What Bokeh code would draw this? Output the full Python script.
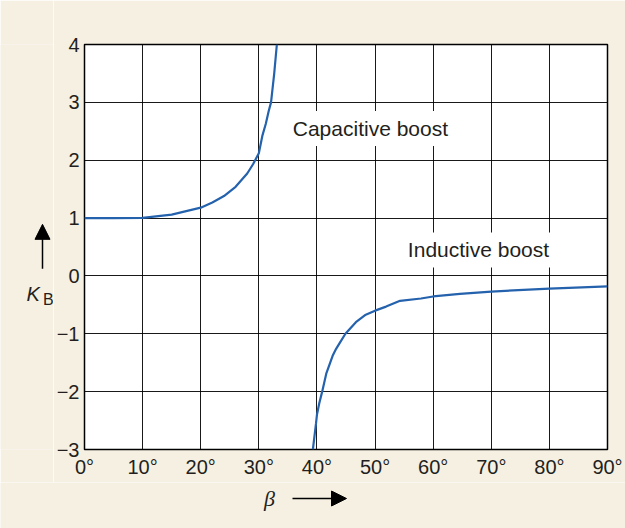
from bokeh.plotting import figure
from bokeh.layouts import column, row
from bokeh.models import FixedTicker, Label, Arrow, NormalHead, Range1d
from bokeh.embed import file_html
from bokeh.resources import INLINE

# Capacitive-boost branch (beta in degrees, K_B)
cap_beta = [0, 5, 10, 15, 20, 22, 24, 26, 28, 29, 30, 30.6, 31.2, 31.7, 32.1, 32.65, 33.1]
cap_k = [1.0, 1.0, 1.005, 1.06, 1.18, 1.27, 1.38, 1.54, 1.77, 1.93, 2.12, 2.42, 2.63, 2.85, 3.0, 3.5, 4.0]

# Inductive-boost branch
ind_beta = [39.3, 39.84, 40.0, 40.4, 40.9, 41.6, 42.7, 43.3, 43.85, 44.9, 46.7, 48.4, 50, 51.9, 54.3, 57.9, 60, 64.6, 70, 80, 90]
ind_k = [-3.0, -2.55, -2.40, -2.2, -2.0, -1.69, -1.38, -1.26, -1.17, -1.0, -0.80, -0.67, -0.60, -0.53, -0.43, -0.39, -0.355, -0.31, -0.27, -0.22, -0.18]

x_ticks = [0, 10, 20, 30, 40, 50, 60, 70, 80, 90]
x_tick_labels = ["0°", "10°", "20°", "30°", "40°", "50°", "60°", "70°", "80°", "90°"]
y_ticks = [-3, -2, -1, 0, 1, 2, 3, 4]
y_tick_labels = ["−3", "−2", "−1", "0", "1", "2", "3", "4"]

BG = "#f6f0e3"
BLUE = "#2562ad"
TXT = "#231f20"
FONT = "Liberation Sans"

# ---- main chart ----
p = figure(width=572, height=482, output_backend="svg", toolbar_location=None,
           x_range=Range1d(0, 90), y_range=Range1d(-3, 4),
           min_border_left=30, min_border_right=18, min_border_top=44, min_border_bottom=33)
p.border_fill_color = BG
p.background_fill_color = "white"
p.outline_line_color = "black"
p.outline_line_width = 1.5

p.xaxis.ticker = FixedTicker(ticks=x_ticks)
p.yaxis.ticker = FixedTicker(ticks=y_ticks)
p.xaxis.major_label_overrides = {t: l for t, l in zip(x_ticks, x_tick_labels)}
p.yaxis.major_label_overrides = {t: l for t, l in zip(y_ticks, y_tick_labels)}
for ax in (p.xaxis, p.yaxis):
    ax.axis_line_color = None
    ax.major_tick_line_color = None
    ax.minor_tick_line_color = None
    ax.major_tick_in = 0
    ax.major_tick_out = 0
    ax.major_label_text_font = FONT
    ax.major_label_text_font_size = "20px"
    ax.major_label_text_color = TXT
p.xaxis.major_label_standoff = 6
p.yaxis.major_label_standoff = 5

p.xgrid.ticker = FixedTicker(ticks=x_ticks)
p.ygrid.ticker = FixedTicker(ticks=y_ticks)
p.grid.grid_line_color = "black"
p.grid.grid_line_width = 1
p.grid.grid_line_alpha = 0.9

p.line(cap_beta, cap_k, line_color=BLUE, line_width=2.2)
p.line(ind_beta, ind_k, line_color=BLUE, line_width=2.2)

for txt, x, y in [("Capacitive boost", 49.2, 2.55), ("Inductive boost", 67.8, 0.45)]:
    p.add_layout(Label(x=x, y=y, text=txt, text_align="center", text_baseline="middle",
                       text_font=FONT, text_font_size="21px", text_color=TXT,
                       background_fill_color="white", padding=6))

# ---- left strip: y-axis title K_B with upward arrow ----
left = figure(width=53, height=482, output_backend="svg", toolbar_location=None,
              x_range=Range1d(0, 53), y_range=Range1d(0, 482),
              x_axis_type=None, y_axis_type=None,
              min_border_left=0, min_border_right=0, min_border_top=0, min_border_bottom=0)
left.border_fill_color = BG
left.background_fill_color = BG
left.outline_line_color = None
left.grid.visible = False
left.add_layout(Label(x=26, y=185, text="K", text_font=FONT, text_font_style="italic",
                      text_font_size="20px", text_color=TXT, text_align="left", text_baseline="alphabetic"))
left.add_layout(Label(x=42.5, y=179, text="B", text_font=FONT,
                      text_font_size="16px", text_color=TXT, text_align="left", text_baseline="alphabetic"))
left.add_layout(Arrow(x_start=42, y_start=215, x_end=42, y_end=268,
                      line_color="black", line_width=1.5,
                      end=NormalHead(size=15, fill_color="black", line_color="black")))

# ---- bottom strip: x-axis title beta with right arrow ----
bottom = figure(width=625, height=46, output_backend="svg", toolbar_location=None,
                x_range=Range1d(0, 625), y_range=Range1d(0, 46),
                x_axis_type=None, y_axis_type=None,
                min_border_left=0, min_border_right=0, min_border_top=0, min_border_bottom=0)
bottom.border_fill_color = BG
bottom.background_fill_color = BG
bottom.outline_line_color = None
bottom.grid.visible = False
bottom.add_layout(Label(x=269, y=30, text="β", text_font="Liberation Serif", text_font_style="italic",
                        text_font_size="22px", text_color=TXT, text_align="center", text_baseline="middle"))
bottom.add_layout(Arrow(x_start=292, y_start=30, x_end=346, y_end=30,
                        line_color="black", line_width=1.5,
                        end=NormalHead(size=15, fill_color="black", line_color="black")))

layout = column(row(left, p, spacing=0), bottom, spacing=0)
html = file_html(layout, INLINE)
html = html.replace("<body>", '<body style="background-color: %s;">' % BG, 1)
open("out.html", "w").write(html)
